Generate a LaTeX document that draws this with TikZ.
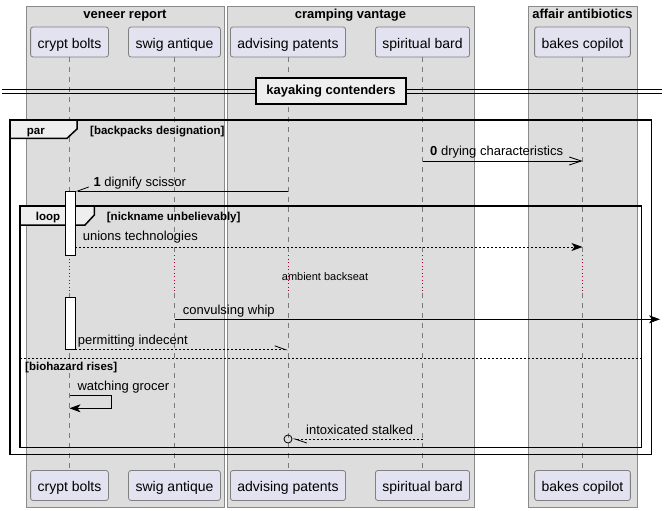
\documentclass[tikz,border=0pt]{standalone}
\usepackage{fontspec}
\setmainfont{Liberation Sans}
\usetikzlibrary{arrows.meta}

\definecolor{grpfill}{HTML}{DDDDDD}
\definecolor{grpline}{HTML}{8A8A8A}
\definecolor{partfill}{HTML}{E2E2F0}
\definecolor{partline}{HTML}{808080}
\definecolor{lifegray}{HTML}{7A7A7A}
\definecolor{delayred}{HTML}{A80036}
\definecolor{tabfill}{HTML}{EEEEEE}

\begin{document}
\begin{tikzpicture}[x=1pt,y=-1pt,
  grpbox/.style={fill=grpfill, draw=grpline, line width=0.8pt},
  grptitle/.style={anchor=base, inner sep=0pt, font=\bfseries\fontsize{13}{15}\selectfont},
  actor/.style={draw=partline, fill=partfill, line width=0.8pt, rounded corners=2.5pt,
    minimum height=30pt, inner xsep=7pt, text height=12.6pt, text depth=0pt,
    font=\fontsize{14}{16}\selectfont},
  lifeline/.style={draw=lifegray, line width=0.8pt, dash pattern=on 5pt off 5pt},
  delayline/.style={draw=delayred, line width=0.8pt, dash pattern=on 1pt off 2.5pt},
  frame/.style={draw=black, line width=1.5pt},
  tab/.style={fill=tabfill, draw=black, line width=1.5pt},
  bar/.style={draw=black, fill=white, line width=0.8pt, inner sep=0pt, minimum width=10pt, anchor=north},
  msg/.style={draw=black, line width=0.8pt},
  ret/.style={msg, dash pattern=on 2pt off 2pt},
  filled/.style={-{Stealth[length=11pt,width=8pt,inset=3pt]}},
  barb/.style={-{Straight Barb[length=12pt,width=8pt]}},
  lbl/.style={anchor=base west, inner sep=0pt, font=\fontsize{13}{15}\selectfont},
  cond/.style={anchor=base west, inner sep=0pt, font=\bfseries\fontsize{11.5}{13}\selectfont},
]
\useasboundingbox (0,0) rectangle (667,511);

% participant groups
\draw[grpbox] (26,6) rectangle (224,507);
\draw[grpbox] (227,6) rectangle (474,507);
\draw[grpbox] (528,6) rectangle (637,507);
\node[grptitle] (g1) at (125,19) {veneer report};
\node[grptitle] (g2) at (350.5,19) {cramping vantage};
\node[grptitle] (g3) at (582.5,19) {affair antibiotics};

% participants, top and bottom
\node[actor] (cb) at (69.5,42) {crypt bolts};
\node[actor] (sa) at (174.5,42) {swig antique};
\node[actor] (ap) at (288,42) {advising patents};
\node[actor] (sb) at (422.5,42) {spiritual bard};
\node[actor] (bc) at (582.5,42) {bakes copilot};
\node[actor] (cb-b) at (69.5,485.5) {crypt bolts};
\node[actor] (sa-b) at (174.5,485.5) {swig antique};
\node[actor] (ap-b) at (288,485.5) {advising patents};
\node[actor] (sb-b) at (422.5,485.5) {spiritual bard};
\node[actor] (bc-b) at (582.5,485.5) {bakes copilot};

% lifelines with the delay gap
\foreach \p in {cb,sa,ap,sb,bc} {
  \draw[lifeline] (\p.south) -- (\p |- 0,255);
  \draw[delayline] (\p |- 0,255) -- (\p |- 0,293);
  \draw[lifeline] (\p |- 0,293) -- (\p-b.north);
}

% divider
\draw[black, line width=0.8pt] (2,89.5) -- (662,89.5);
\draw[black, line width=0.8pt] (2,93.5) -- (662,93.5);
\node[tab, minimum width=150pt, minimum height=26pt, inner sep=0pt, text height=8pt, text depth=0pt,
  font=\bfseries\fontsize{13}{15}\selectfont] (div) at (331,90.8) {kayaking contenders};

% par and loop frames
\draw[frame] (10,120) rectangle (651.7,454.3);
\draw[tab] (10,120) -- (77,120) -- (77,129) -- (67,138.3) -- (10,138.3) -- cycle;
\node[cond] (parlbl) at (26.7,135) {par};
\node[cond] (parcond) at (90,135) {[backpacks designation]};

\draw[frame] (20,206) rectangle (641.7,447.3);
\draw[tab] (20,206) -- (94.3,206) -- (94.3,215) -- (85,225) -- (20,225) -- cycle;
\node[cond] (looplbl) at (35.7,220) {loop};
\node[cond] (loopcond) at (106.7,220) {[nickname unbelievably]};

\draw[black, line width=0.8pt, dash pattern=on 2pt off 2pt] (20,358.3) -- (641.7,358.3);
\node[cond] (elsecond) at (25,370) {[biohazard rises]};

% activations
\node[bar, minimum height=64pt] (act1) at (70,191) {};
\node[bar, minimum height=52pt] (act2) at (70,297) {};

% messages
\draw[msg, barb] (sb |- 0,161) -- (bc |- 0,161);
\node[lbl] (m0) at (430,155) {\textbf{0} drying characteristics};

\draw[msg, -{Straight Barb[right,length=11pt,width=8pt]}] (ap |- act1.north) -- (act1.north east);
\node[lbl] (m1) at (93.3,186) {\textbf{1} dignify scissor};

\draw[ret, filled] (act1.east |- 0,247) -- (bc |- 0,247);
\node[lbl] (m2) at (82.7,240.7) {unions technologies};

\node[anchor=base, inner sep=0pt, font=\fontsize{11}{13}\selectfont] (delay) at (325,280) {ambient backseat};

\coordinate (whipend) at (660,319.3);
\draw[msg, filled] (sa |- whipend) -- (whipend);
\node[lbl] (m3) at (182.7,314) {convulsing whip};

\draw[ret, -{Straight Barb[left,length=11pt,width=8pt]}] (act2.south east) -- (ap |- act2.south);
\node[lbl] (m4) at (77.7,344.3) {permitting indecent};

\draw[msg, filled] (cb |- 0,395.3) -- ++(42,0) -- ++(0,13) -- (cb |- 0,408.3);
\node[lbl] (m5) at (77.3,390.7) {watching grocer};

\node[circle, draw=black, line width=0.8pt, inner sep=0pt, minimum size=8pt] (ocirc) at (ap |- 0,439) {};
\draw[ret, -{Straight Barb[left,length=12pt,width=8pt]}] (sb |- ocirc) -- (ocirc.east);
\node[lbl] (m6) at (306,434) {intoxicated stalked};
\end{tikzpicture}
\end{document}
